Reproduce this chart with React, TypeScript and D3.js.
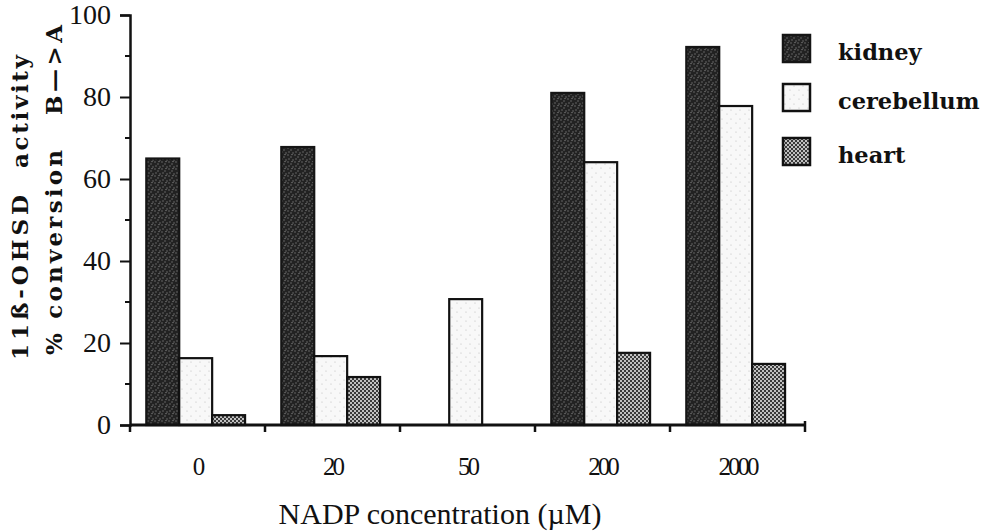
import React, { useEffect, useRef } from 'react'

import * as d3 from 'd3'

// NADP concentration groups (uM)
const groups = ['0', '20', '50', '200', '2000']
const series = ['kidney', 'cerebellum', 'heart']

const kidney = [65, 67.8, null, 81, 92.2]
const cerebellum = [16.3, 16.8, 30.7, 64.1, 77.8]
const heart = [2.4, 11.7, null, 17.6, 14.9]

const yTicks = [0, 20, 40, 60, 80, 100]
const yMinorTicks = [10, 30, 50, 70, 90]

const values: Record<string, (number | null)[]> = { kidney, cerebellum, heart }

const App = () => {
  const svgRef = useRef<SVGSVGElement>(null)

  useEffect(() => {
    if (!svgRef.current) return

    const w = 983
    const h = 532
    const serif = '"Liberation Serif", "Times New Roman", serif'
    const wideSerif = '"DejaVu Serif", serif'

    const x0 = d3.scaleBand<string>().domain(groups).range([130, 805]).padding(0)
    const x1 = d3
      .scaleBand<string>()
      .domain(series)
      .range([0, x0.bandwidth()])
      .paddingInner(0)
      .paddingOuter(0.55)
      .align(0.45)
    const y = d3.scaleLinear().domain([0, 100]).range([425, 15])

    const svg = d3.select(svgRef.current).attr('width', w).attr('height', h).attr('viewBox', [0, 0, w, h])

    // textures for the three tissues
    const defs = svg.append('defs')
    const pk = defs.append('pattern').attr('id', 'p-kidney').attr('width', 7).attr('height', 7).attr('patternUnits', 'userSpaceOnUse')
    pk.append('rect').attr('width', 7).attr('height', 7).attr('fill', '#222')
    ;[[1, 1], [4, 3], [2, 5], [6, 6], [5, 0.5]].forEach(([cx, cy]) =>
      pk.append('circle').attr('cx', cx).attr('cy', cy).attr('r', 0.8).attr('fill', '#6a6a6a'),
    )
    const pc = defs.append('pattern').attr('id', 'p-cere').attr('width', 9).attr('height', 9).attr('patternUnits', 'userSpaceOnUse')
    pc.append('rect').attr('width', 9).attr('height', 9).attr('fill', '#f8f8f8')
    ;[[2, 2], [7, 6]].forEach(([cx, cy]) =>
      pc.append('circle').attr('cx', cx).attr('cy', cy).attr('r', 0.6).attr('fill', '#bbb'),
    )
    const ph = defs.append('pattern').attr('id', 'p-heart').attr('width', 4).attr('height', 4).attr('patternUnits', 'userSpaceOnUse')
    ph.append('rect').attr('width', 4).attr('height', 4).attr('fill', '#3a3a3a')
    ;[[1, 1], [3, 3]].forEach(([cx, cy]) =>
      ph.append('circle').attr('cx', cx).attr('cy', cy).attr('r', 1).attr('fill', '#eee'),
    )

    const fills: Record<string, string> = {
      kidney: 'url(#p-kidney)',
      cerebellum: 'url(#p-cere)',
      heart: 'url(#p-heart)',
    }
    const strokes: Record<string, string> = { kidney: '#151515', cerebellum: '#111', heart: '#111' }

    // bars
    const bars = groups.flatMap((g, i) =>
      series
        .filter((s) => values[s][i] != null)
        .map((s) => ({ g, s, v: values[s][i] as number })),
    )
    svg
      .append('g')
      .selectAll('rect')
      .data(bars)
      .join('rect')
      .attr('x', (d) => (x0(d.g) as number) + (x1(d.s) as number))
      .attr('y', (d) => y(d.v))
      .attr('width', x1.bandwidth())
      .attr('height', (d) => y(0) - y(d.v))
      .attr('fill', (d) => fills[d.s])
      .attr('stroke', (d) => strokes[d.s])
      .attr('stroke-width', 2.2)

    // y axis
    const yAxis = d3.axisLeft(y).tickValues(yTicks).tickSize(10).tickPadding(9)
    svg
      .append('g')
      .attr('transform', 'translate(130,0)')
      .call(yAxis)
      .call((g) => g.select('.domain').attr('stroke', '#111').attr('stroke-width', 2.5))
      .call((g) => g.selectAll('.tick line').attr('stroke', '#111').attr('stroke-width', 2))
      .call((g) =>
        g
          .selectAll('.tick text')
          .attr('font-family', serif)
          .attr('font-size', 28)
          .attr('fill', '#111'),
      )
    svg
      .append('g')
      .selectAll('line')
      .data(yMinorTicks)
      .join('line')
      .attr('x1', 125)
      .attr('x2', 130)
      .attr('y1', (d) => y(d))
      .attr('y2', (d) => y(d))
      .attr('stroke', '#111')
      .attr('stroke-width', 2)

    // x axis
    const xAxisG = svg.append('g')
    xAxisG
      .append('line')
      .attr('x1', x0.range()[0])
      .attr('x2', x0.range()[1])
      .attr('y1', y(0))
      .attr('y2', y(0))
      .attr('stroke', '#111')
      .attr('stroke-width', 3)
    const bounds = [...groups.map((g) => x0(g) as number), x0.range()[1]]
    xAxisG
      .selectAll('line.tick')
      .data(bounds)
      .join('line')
      .attr('class', 'tick')
      .attr('x1', (d) => d)
      .attr('x2', (d) => d)
      .attr('y1', (d, i) => (i === bounds.length - 1 ? y(0) - 4 : y(0)))
      .attr('y2', y(0) + 7)
      .attr('stroke', '#111')
      .attr('stroke-width', 2.5)
    xAxisG
      .selectAll('text')
      .data(groups)
      .join('text')
      .attr('x', (d) => (x0(d) as number) + x0.bandwidth() / 2)
      .attr('y', 475)
      .attr('text-anchor', 'middle')
      .attr('font-family', serif)
      .attr('font-size', 25)
      .attr('letter-spacing', -3)
      .attr('fill', '#111')
      .text((d) => d)

    svg
      .append('text')
      .attr('x', 440)
      .attr('y', 524)
      .attr('text-anchor', 'middle')
      .attr('font-family', serif)
      .attr('font-size', 30)
      .attr('fill', '#111')
      .text('NADP concentration (\u00b5M)')

    // y title, two rotated lines, each in two pieces
    const titleBits = [
      { t: '11\u00df-OHSD', x: 28, y0: 360, y1: 195 },
      { t: 'activity', x: 28, y0: 168, y1: 55 },
      { t: '% conversion', x: 62, y0: 355, y1: 150 },
      { t: 'B\u2014>A', x: 62, y0: 115, y1: 25 },
    ]
    svg
      .append('g')
      .selectAll('text')
      .data(titleBits)
      .join('text')
      .attr('transform', (d) => `translate(${d.x},${d.y0}) rotate(-90)`)
      .attr('font-family', wideSerif)
      .attr('font-weight', 'bold')
      .attr('font-size', 23)
      .attr('fill', '#111')
      .attr('textLength', (d) => d.y0 - d.y1)
      .attr('lengthAdjust', 'spacing')
      .text((d) => d.t)

    // legend
    const legend = svg
      .append('g')
      .selectAll('g')
      .data(series)
      .join('g')
      .attr('transform', (d, i) => `translate(783,${[35, 84, 138][i]})`)
    legend
      .append('rect')
      .attr('width', 27)
      .attr('height', 27)
      .attr('fill', (d) => fills[d])
      .attr('stroke', (d) => strokes[d])
      .attr('stroke-width', 2.5)
    legend
      .append('text')
      .attr('x', 55)
      .attr('y', 25)
      .attr('font-family', wideSerif)
      .attr('font-weight', 'bold')
      .attr('font-size', 22.5)
      .attr('fill', '#111')
      .text((d) => d)

    return () => {
      svg.selectAll('*').remove()
    }
  }, [])

  return (
    <>
      <svg ref={svgRef} style={{ position: 'absolute', left: 0, top: 0, background: '#fff' }} />
    </>
  )
}

export default App
